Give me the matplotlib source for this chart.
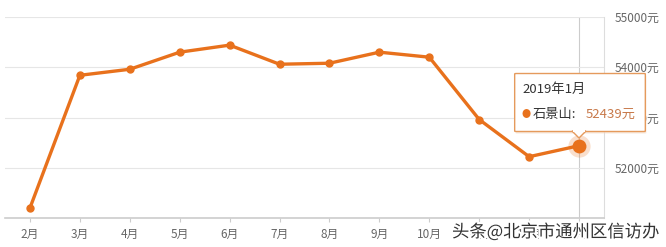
import matplotlib
matplotlib.use("Agg")
import matplotlib.pyplot as plt
import matplotlib.patches as mpatches
import matplotlib.patheffects as pe

plt.rcParams['font.family'] = ['Noto Sans CJK SC', 'DejaVu Sans']

months = ['2月', '3月', '4月', '5月', '6月', '7月', '8月', '9月', '10月', '11月', '12月', '1月']
prices = [51200, 53840, 53960, 54300, 54440, 54060, 54080, 54300, 54200, 52960, 52220, 52439]
yticks = [52000, 53000, 54000, 55000]
ytick_labels = ['52000元', '53000元', '54000元', '55000元']
tip_title = '2019年1月'
tip_name = '石景山:'
tip_value = '52439元'

orange = '#E8711C'
W, H = 666, 247
fig = plt.figure(figsize=(W/100, H/100), dpi=100)
ax = fig.add_axes([5/W, 1-218/H, 599/W, 201/H])
x = list(range(len(months)))
ax.set_xlim(-0.5, len(months)-0.5)
ax.set_ylim(51000, 55000)

for s in ['top', 'left']:
    ax.spines[s].set_visible(False)
ax.spines['right'].set_color('#dddddd')
ax.spines['right'].set_linewidth(0.8)
ax.spines['bottom'].set_color('#cccccc')
ax.spines['bottom'].set_linewidth(1.2)

ax.yaxis.tick_right()
ax.set_yticks(yticks)
ax.set_yticklabels(ytick_labels, fontsize=8.5, color='#666666')
ax.tick_params(axis='y', length=0, pad=8)
ax.grid(axis='y', color='#e6e6e6', linewidth=0.8)
ax.set_xticks(x)
ax.set_xticklabels(months, fontsize=8.5, color='#666666')
ax.tick_params(axis='x', length=3, color='#cccccc', pad=4)
ax.axvline(x[-1], color='#cccccc', linewidth=0.8, zorder=1)

ax.plot(x, prices, color=orange, linewidth=2.4, marker='o', markersize=5, zorder=3)
ax.plot(x[-1], prices[-1], 'o', color=orange, markersize=16, alpha=0.22, zorder=4, markeredgewidth=0)
ax.plot(x[-1], prices[-1], 'o', color=orange, markersize=10, zorder=5, markeredgewidth=0)

# tooltip
L, R, T, B = 516, 644, 74, 131
shadow = mpatches.FancyBboxPatch(((L+1)/W, 1-(B+2)/H), (R-L)/W, (B-T)/H,
                                 boxstyle='round,pad=0.002', transform=fig.transFigure,
                                 facecolor='#f3d9c4', edgecolor='none', alpha=0.6, zorder=9)
fig.add_artist(shadow)
box = mpatches.FancyBboxPatch((L/W, 1-B/H), (R-L)/W, (B-T)/H,
                              boxstyle='round,pad=0.002', transform=fig.transFigure,
                              facecolor='white', edgecolor='#e59a5c', linewidth=1.0, zorder=10)
fig.add_artist(box)
tri = mpatches.Polygon([[572/W, 1-B/H], [586/W, 1-B/H], [579/W, 1-138/H]], closed=True,
                       transform=fig.transFigure, facecolor='white', edgecolor='#e59a5c',
                       linewidth=1.0, zorder=11)
fig.add_artist(tri)
fig.add_artist(mpatches.Rectangle((573/W, 1-(B+1)/H), 12/W, 2/H, transform=fig.transFigure,
                                  facecolor='white', edgecolor='none', zorder=12))
fig.text(522/W, 1-89/H, tip_title, fontsize=9.5, color='#333333', va='center', ha='left', zorder=13)
fig.text(522/W, 1-114/H, '●', fontsize=6.5, color=orange, va='center', ha='left', zorder=13)
fig.text(533/W, 1-114/H, tip_name, fontsize=9.5, color='#333333', va='center', ha='left', zorder=13)
fig.text(586/W, 1-114/H, tip_value, fontsize=9.5, color='#c8794a', va='center', ha='left', zorder=13)

# watermark
fig.text(452/W, 1-232/H, '头条@北京市通州区信访办', fontsize=12.5, color='#333333',
         va='center', ha='left', zorder=20,
         path_effects=[pe.withStroke(linewidth=3, foreground='white')])

fig.savefig('out.png', dpi=100)
